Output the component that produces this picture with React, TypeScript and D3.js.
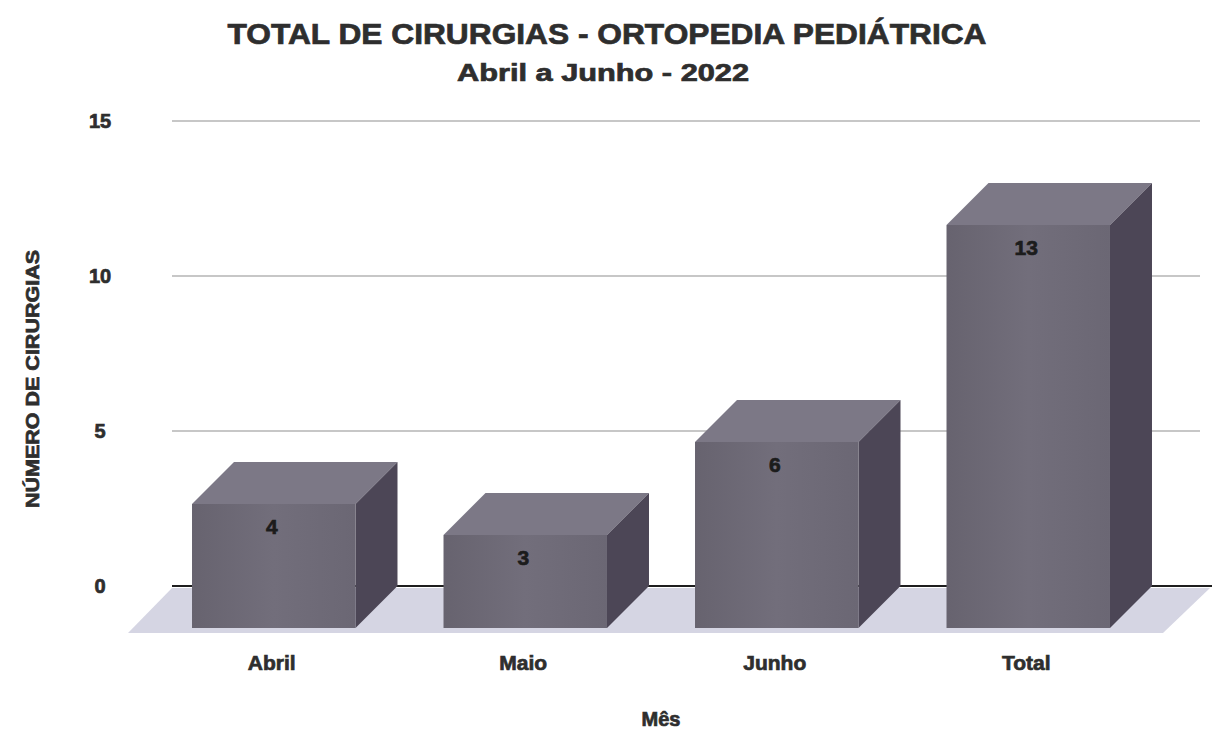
import React from "react";
import * as d3 from "d3";

const categories = ["Abril", "Maio", "Junho", "Total"];
const values = [4, 3, 6, 13];
const yTicks = [0, 5, 10, 15];
const title = "TOTAL DE CIRURGIAS - ORTOPEDIA PEDIÁTRICA";
const subtitle = "Abril a Junho - 2022";
const yTitle = "NÚMERO DE CIRURGIAS";
const xTitle = "Mês";

const W = 1216;
const H = 731;
const DX = 42;
const DY = 42;
const FONT = "'Liberation Sans', Arial, Helvetica, sans-serif";
const TXT = "#2e2e2e";

const heavy = {
  fontFamily: FONT,
  fontWeight: "bold" as const,
  fill: TXT,
  stroke: TXT,
  strokeWidth: 0.7,
};

export default function App() {
  const yBack = d3.scaleLinear().domain([0, 15]).range([586, 121]);
  const xFront = d3
    .scaleBand<string>()
    .domain(categories)
    .range([148, 1154])
    .paddingInner(0.35)
    .paddingOuter(0.175);
  const bw = xFront.bandwidth();
  const gridX0 = 172;
  const gridX1 = 1200;
  const base = yBack(0);

  return (
    <svg
      width={W}
      height={H}
      style={{ position: "absolute", left: 0, top: 0, background: "#fff" }}
    >
      <defs>
        <linearGradient id="front" x1="0" x2="1" y1="0" y2="0">
          <stop offset="0" stopColor="#67636f" />
          <stop offset="0.5" stopColor="#726e7b" />
          <stop offset="1" stopColor="#6b6774" />
        </linearGradient>
      </defs>
      <rect width={W} height={H} fill="#fff" />
      <text
        x={607}
        y={44}
        textAnchor="middle"
        fontSize={29}
        textLength={759}
        lengthAdjust="spacingAndGlyphs"
        {...heavy}
      >
        {title}
      </text>
      <text
        x={603}
        y={81}
        textAnchor="middle"
        fontSize={23}
        textLength={292}
        lengthAdjust="spacingAndGlyphs"
        {...heavy}
      >
        {subtitle}
      </text>

      {/* gridlines */}
      {yTicks
        .filter((t) => t !== 0)
        .map((t) => (
          <line
            key={t}
            x1={gridX0}
            x2={gridX1}
            y1={yBack(t)}
            y2={yBack(t)}
            stroke="#8f8f8f"
            strokeWidth={1.2}
          />
        ))}

      {/* floor */}
      <polygon
        points={[
          [gridX0, base + 2],
          [gridX1 + 10, base + 2],
          [gridX1 + 10 - 47, base + 47],
          [gridX0 - 44, base + 47],
        ]
          .map((p) => p.join(","))
          .join(" ")}
        fill="#d5d5e3"
      />
      <line
        x1={gridX0}
        x2={gridX1 + 12}
        y1={base}
        y2={base}
        stroke="#1e1e1e"
        strokeWidth={2.2}
      />

      {/* y tick labels */}
      {yTicks.map((t) => (
        <text
          key={t}
          x={100}
          y={yBack(t) + 7}
          textAnchor="middle"
          fontSize={20}
          {...heavy}
        >
          {t}
        </text>
      ))}

      <text
        transform={`translate(39,379) rotate(-90)`}
        textAnchor="middle"
        fontSize={19}
        textLength={258}
        lengthAdjust="spacingAndGlyphs"
        {...heavy}
      >
        {yTitle}
      </text>

      {/* bars */}
      {categories.map((c, i) => {
        const v = values[i];
        const x = xFront(c)!;
        const top = yBack(v) + DY;
        const bot = base + DY;
        const topFace = [
          [x, top],
          [x + DX, top - DY],
          [x + bw + DX, top - DY],
          [x + bw, top],
        ];
        const side = [
          [x + bw, top],
          [x + bw + DX, top - DY],
          [x + bw + DX, bot - DY],
          [x + bw, bot],
        ];
        return (
          <g key={c}>
            <polygon
              points={topFace.map((p) => p.join(",")).join(" ")}
              fill="#7c7886"
            />
            <polygon
              points={side.map((p) => p.join(",")).join(" ")}
              fill="#4c4656"
            />
            <rect x={x} y={top} width={bw} height={bot - top} fill="url(#front)" />
            <text
              x={x + bw / 2 - 2}
              y={top + 30}
              textAnchor="middle"
              fontSize={21}
              {...heavy}
              fill="#1c1c1c"
              stroke="#1c1c1c"
            >
              {v}
            </text>
            <text
              x={x + bw / 2 - 2}
              y={670}
              textAnchor="middle"
              fontSize={21}
              {...heavy}
            >
              {c}
            </text>
          </g>
        );
      })}

      <text
        x={661}
        y={726}
        textAnchor="middle"
        fontSize={20}
        {...heavy}
      >
        {xTitle}
      </text>
    </svg>
  );
}
